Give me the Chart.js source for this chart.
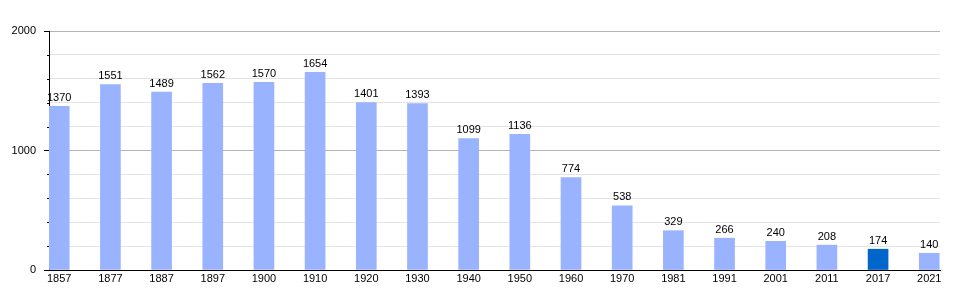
<!DOCTYPE html>
<html>
<head>
<meta charset="utf-8">
<script src="https://cdn.jsdelivr.net/npm/chart.js@4/dist/chart.umd.min.js"></script>
<style>
  html, body { margin: 0; padding: 0; background: #fff; }
  #wrap { width: 968px; height: 300px; }
</style>
</head>
<body>
<div id="wrap"><canvas id="chart" width="968" height="300"></canvas></div>
<script>
// population par année
const years = ['1857', '1877', '1887', '1897', '1900', '1910', '1920', '1930', '1940',
  '1950', '1960', '1970', '1981', '1991', '2001', '2011', '2017', '2021'];
const population = [1370, 1551, 1489, 1562, 1570, 1654, 1401, 1393, 1099,
  1136, 774, 538, 329, 266, 240, 208, 174, 140];
const highlightYear = '2017';
const yTicks = [0, 1000, 2000];

const barColor = 'rgb(153, 179, 255)';
const highlightColor = '#0066cc';

// étiquettes au-dessus des barres + petites graduations
const labelsPlugin = {
  id: 'barLabels',
  afterDatasetsDraw(chart) {
    const ctx = chart.ctx;
    const meta = chart.getDatasetMeta(0);
    ctx.save();
    ctx.font = '11px "Liberation Sans", Arial, sans-serif';
    ctx.fillStyle = '#000';
    ctx.textAlign = 'center';
    ctx.textBaseline = 'bottom';
    meta.data.forEach((bar, i) => {
      ctx.fillText(String(population[i]), bar.x, bar.y - 3);
    });
    // graduations mineures
    const y = chart.scales.y;
    ctx.strokeStyle = '#000';
    ctx.lineWidth = 1;
    for (let v = 200; v < 2000; v += 200) {
      if (v % 1000 === 0) continue;
      const py = Math.round(y.getPixelForValue(v)) + 0.5;
      ctx.beginPath();
      ctx.moveTo(y.right - 2, py);
      ctx.lineTo(y.right, py);
      ctx.stroke();
    }
    ctx.restore();
  }
};

const ctx = document.getElementById('chart').getContext('2d');
new Chart(ctx, {
  type: 'bar',
  data: {
    datasets: [{
      data: population.map((v, i) => ({ x: i, y: v })),
      backgroundColor: years.map(y => y === highlightYear ? highlightColor : barColor),
      barThickness: 20,
      borderWidth: 0
    }]
  },
  options: {
    responsive: false,
    animation: false,
    events: [],
    layout: { padding: { top: 31, right: 28, left: 0, bottom: 0 } },
    plugins: { legend: { display: false }, tooltip: { enabled: false } },
    scales: {
      x: {
        type: 'linear',
        offset: false,
        min: -0.2,
        max: 17.21,
        afterBuildTicks(scale) {
          scale.ticks = years.map((y, i) => ({ value: i }));
        },
        afterFit(scale) { scale.height = 30; },
        ticks: {
          autoSkip: false,
          maxRotation: 0,
          padding: 2,
          color: '#000',
          font: { family: '"Liberation Sans", Arial, sans-serif', size: 11 },
          callback: (v) => years[v]
        },
        grid: { display: false, drawTicks: false, offset: false },
        border: { color: '#000', width: 1 }
      },
      y: {
        min: 0,
        max: 2000,
        afterBuildTicks(scale) {
          const t = [];
          for (let v = 0; v <= 2000; v += 200) t.push({ value: v });
          scale.ticks = t;
        },
        afterFit(scale) { scale.width = 49; },
        ticks: {
          padding: 8,
          color: '#000',
          font: { family: '"Liberation Sans", Arial, sans-serif', size: 11 },
          callback: (v) => yTicks.includes(v) ? String(v) : ''
        },
        grid: {
          tickLength: 5,
          color: (c) => c.tick && c.tick.value === 0 ? 'transparent'
            : (c.tick && c.tick.value % 1000 === 0 ? '#b4b4b4' : '#e4e4e4'),
          tickColor: (c) => c.tick && c.tick.value % 1000 === 0 ? '#000' : 'transparent'
        },
        border: { color: '#000', width: 1 }
      }
    }
  },
  plugins: [labelsPlugin]
});
</script>
</body>
</html>
